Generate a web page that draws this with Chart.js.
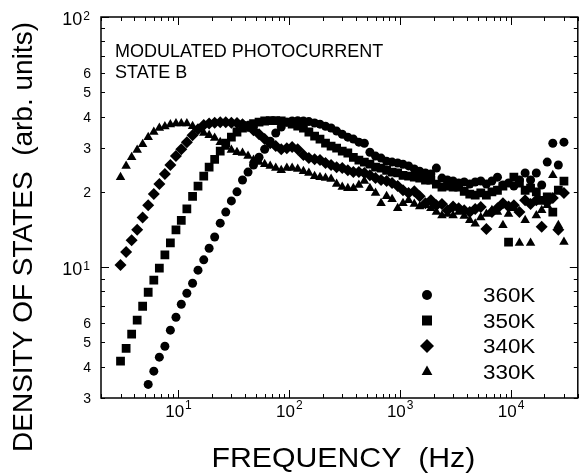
<!DOCTYPE html>
<html>
<head>
<meta charset="utf-8">
<title>Modulated photocurrent - state B</title>
<script src="https://cdn.jsdelivr.net/npm/chart.js@4"></script>
<style>
html, body { margin: 0; padding: 0; background: #fff; }
#c { display: block; }
</style>
</head>
<body>
<canvas id="c" width="584" height="474"></canvas>
<script>
(function() {
'use strict';

const FONT = '"Liberation Sans", Arial, Helvetica, sans-serif';

// frequency sweep (Hz)
const freqs = [
  3, 3.37, 3.78, 4.24, 4.75, 5.33, 5.99, 6.72, 7.54, 8.45,
  9.49, 10.6, 11.9, 13.4, 15.0, 16.9, 18.9, 21.2, 23.8, 26.7,
  30, 33.7, 37.8, 42.4, 47.5, 53.3, 59.9, 67.2, 75.4, 84.5,
  94.9, 106, 119, 134, 150, 169, 189, 212, 238, 267,
  300, 337, 378, 424, 475, 533, 599, 672, 754, 845,
  949, 1060, 1190, 1340, 1500, 1690, 1890, 2120, 2380, 2670,
  3000, 3370, 3780, 4240, 4750, 5330, 5990, 6720, 7540, 8450,
  9490, 10600, 11900, 13400, 15000, 16900, 18900, 21200, 23800, 26700,
  30000
];

// density of states (arb. units), one value per frequency
const dos360 = [
  null, null, null, null, null, 3.40, 3.84, 4.37, 4.83, 5.60,
  6.31, 7.11, 7.87, 8.63, 9.73, 10.7, 11.9, 13.2, 15.0, 16.6,
  18.4, 20.0, 22.3, 24.0, 25.6, 27.5, 29.6, 31.9, 34.4, 36.3,
  38.0, 38.4, 38.5, 38.4, 38.2, 37.7, 37.3, 36.6, 36.0, 35.0,
  34.0, 33.1, 32.5, 31.6, 31.3, 28.8, 27.8, 27.3, 26.5, 26.3,
  26.1, 25.8, 25.4, 24.7, 24.2, 23.8, 23.6, 24.9, 22.7, 22.3,
  22.1, 21.7, 21.9, 21.5, 21.9, 22.1, 21.5, 22.1, 22.9, 21.3,
  21.7, 21.1, 22.3, 23.8, 22.3, 23.8, 21.3, 26.3, 31.3, 25.6,
  31.6
];
const dos350 = [
  4.21, 4.74, 5.40, 6.14, 6.98, 7.94, 8.87, 9.91, 11.2, 12.5,
  14.1, 15.4, 17.1, 19.2, 21.1, 23.1, 25.1, 27.0, 29.1, 31.3,
  33.1, 34.7, 36.0, 36.8, 37.5, 38.0, 38.4, 38.5, 38.5, 38.4,
  38.0, 37.3, 36.6, 36.0, 34.7, 33.4, 32.5, 31.3, 30.5, 29.9,
  29.1, 28.6, 27.5, 26.8, 26.3, 25.8, 25.1, 24.9, 24.4, 24.0,
  23.8, 23.3, 23.1, 22.9, 22.7, 22.3, 22.3, 21.5, 20.9, 21.1,
  20.9, 20.9, 20.1, 19.6, 19.4, 19.8, 19.4, 20.0, 20.3, 21.1,
  12.6, 22.9, 21.7, 20.3, 20.7, 20.0, 18.5, 19.1, 16.6, 20.3,
  22.1
];
const dos340 = [
  10.2, 11.5, 12.8, 14.1, 15.8, 17.7, 19.6, 21.5, 23.6, 25.6,
  27.8, 29.6, 31.6, 33.7, 35.6, 37.0, 37.5, 37.8, 38.0, 38.0,
  37.8, 37.7, 37.3, 36.6, 35.3, 34.0, 32.5, 31.3, 30.5, 29.6,
  29.9, 30.2, 29.6, 28.1, 27.3, 27.0, 26.8, 26.1, 25.6, 25.1,
  24.9, 24.4, 24.0, 24.0, 23.8, 23.3, 22.7, 22.3, 22.1, 21.7,
  21.1, 20.3, 19.8, 20.1, 19.2, 18.0, 18.5, 17.7, 17.9, 16.9,
  17.5, 17.2, 16.9, 16.6, 17.1, 17.4, 14.2, 16.6, 17.2, 18.0,
  17.5, 17.7, 16.6, 18.5, 17.9, 18.5, 14.5, 18.2, 18.9, 14.1,
  19.8
];
const dos330 = [
  22.9, 25.4, 27.5, 29.4, 31.0, 33.1, 34.7, 36.0, 36.5, 37.2,
  37.5, 37.5, 37.5, 36.6, 35.6, 34.4, 33.7, 32.8, 31.6, 30.2,
  29.4, 28.8, 28.6, 27.8, 26.8, 26.3, 25.8, 25.4, 24.9, 24.4,
  24.9, 24.9, 24.7, 24.2, 23.8, 23.1, 22.9, 22.7, 22.5, 21.5,
  20.9, 20.7, 20.7, 21.3, 22.1, 20.7, 19.8, 18.0, 19.2, 18.7,
  17.2, 18.0, 18.5, 17.9, 17.5, 17.7, 17.2, 16.6, 16.1, 16.3,
  16.1, 16.6, 16.0, 15.4, 14.9, 15.8, 16.3, 16.9, 16.6, 14.7,
  16.3, 17.2, 12.5, 15.4, 12.5, 16.1, 16.9, 17.7, 23.3, 14.7,
  12.6
];

const seriesLabels = ['360K', '350K', '340K', '330K'];

// tick labels
const xTickVals = [10, 100, 1000, 10000];
const xTickBase = ['10', '10', '10', '10'];
const xTickExp = ['1', '2', '3', '4'];
const yTickVals = [100, 60, 50, 40, 30, 20, 10, 6, 5, 4, 3];
const yTickBase = ['10', '6', '5', '4', '3', '2', '10', '6', '5', '4', '3'];
const yTickExp = ['2', '', '', '', '', '', '1', '', '', '', ''];

const noteLines = ['MODULATED PHOTOCURRENT', 'STATE B'];
const xTitle = 'FREQUENCY  (Hz)';
const yTitle = 'DENSITY OF STATES  (arb. units)';

function pts(arr) {
  const out = [];
  freqs.forEach((f, i) => {
    if (arr[i] != null) out.push({x: f, y: arr[i]});
  });
  return out;
}

function minorTicks(lo, hi) {
  const t = [];
  for (let d = 1; d <= 1e5; d *= 10) {
    for (let k = 1; k <= 9; k++) {
      const v = k * d;
      if (v >= lo && v <= hi) t.push({v: v, major: k === 1});
    }
  }
  return t;
}

function text(ctx, s, x, y, size, align, sx) {
  ctx.save();
  ctx.font = size + 'px ' + FONT;
  ctx.textAlign = align || 'left';
  ctx.textBaseline = 'alphabetic';
  ctx.translate(x, y);
  ctx.scale(sx || 1, 1);
  ctx.fillText(s, 0, 0);
  ctx.restore();
}

// "10" + raised exponent
function powLabel(ctx, base, exp, x, y, align, bSize, eSize, rise) {
  ctx.save();
  ctx.font = bSize + 'px ' + FONT;
  const wb = ctx.measureText(base).width;
  ctx.font = eSize + 'px ' + FONT;
  const we = exp ? ctx.measureText(exp).width + 1 : 0;
  const w = wb + we;
  let x0 = x;
  if (align === 'center') x0 = x - w / 2;
  else if (align === 'right') x0 = x - w;
  ctx.textAlign = 'left';
  ctx.textBaseline = 'alphabetic';
  ctx.font = bSize + 'px ' + FONT;
  ctx.fillText(base, x0, y);
  if (exp) {
    ctx.font = eSize + 'px ' + FONT;
    ctx.fillText(exp, x0 + wb + 1, y - rise);
  }
  ctx.restore();
}

function marker(ctx, style, x, y, r) {
  ctx.beginPath();
  if (style === 'circle') {
    ctx.arc(x, y, r, 0, Math.PI * 2);
  } else if (style === 'rect') {
    ctx.rect(x - r, y - r, 2 * r, 2 * r);
  } else if (style === 'rectRot') {
    ctx.moveTo(x - r, y);
    ctx.lineTo(x, y - r);
    ctx.lineTo(x + r, y);
    ctx.lineTo(x, y + r);
    ctx.closePath();
  } else {
    ctx.moveTo(x, y - r);
    ctx.lineTo(x + r * 0.9, y + r * 0.6);
    ctx.lineTo(x - r * 0.9, y + r * 0.6);
    ctx.closePath();
  }
  ctx.fill();
}

const axesPlugin = {
  id: 'axesPlugin',
  afterDatasetsDraw(chart) {
    const ctx = chart.ctx;
    const a = chart.chartArea;
    const sx = chart.scales.x, sy = chart.scales.y;
    ctx.save();
    ctx.strokeStyle = '#000';
    ctx.fillStyle = '#000';
    ctx.lineWidth = 1.5;
    ctx.strokeRect(a.left, a.top, a.right - a.left, a.bottom - a.top);

    ctx.lineWidth = 1;
    ctx.beginPath();
    minorTicks(sx.min, sx.max).forEach(t => {
      const px = Math.round(sx.getPixelForValue(t.v)) + 0.5;
      const len = t.major ? 8 : 4;
      ctx.moveTo(px, a.bottom);
      ctx.lineTo(px, a.bottom - len);
      ctx.moveTo(px, a.top);
      ctx.lineTo(px, a.top + len);
    });
    minorTicks(sy.min, sy.max).forEach(t => {
      const py = Math.round(sy.getPixelForValue(t.v)) + 0.5;
      const len = t.major ? 8 : 4;
      ctx.moveTo(a.left, py);
      ctx.lineTo(a.left + len, py);
      ctx.moveTo(a.right, py);
      ctx.lineTo(a.right - len, py);
    });
    ctx.stroke();

    // tick labels
    xTickVals.forEach((v, i) => {
      const px = sx.getPixelForValue(v);
      powLabel(ctx, xTickBase[i], xTickExp[i], px, a.bottom + 19, 'center', 17, 12, 8);
    });
    yTickVals.forEach((v, i) => {
      const py = sy.getPixelForValue(v);
      if (yTickExp[i]) {
        powLabel(ctx, yTickBase[i], yTickExp[i], a.left - 11, py + 8, 'right', 18, 12, 5);
      } else {
        text(ctx, yTickBase[i], a.left - 10, py + 5, 14, 'right');
      }
    });

    // axis titles
    text(ctx, xTitle, (a.left + a.right) / 2 + 4, 467, 28, 'center', 1.08);
    ctx.save();
    ctx.translate(32, 237);
    ctx.rotate(-Math.PI / 2);
    text(ctx, yTitle, 0, 0, 28, 'center', 1.0);
    ctx.restore();

    // annotation
    text(ctx, noteLines[0], a.left + 14, 57, 18, 'left');
    text(ctx, noteLines[1], a.left + 14, 78, 18, 'left');

    // legend
    chart.data.datasets.forEach((ds, i) => {
      const ly = 295 + 25.5 * i;
      const st = ds.pointStyle;
      const r = st === 'circle' ? 5 : st === 'rect' ? 5 : st === 'rectRot' ? 7 : 6;
      marker(ctx, st, 427, ly, r);
      text(ctx, ds.label, 483, ly + 7, 20, 'left', 1.12);
    });
    ctx.restore();
  }
};

function ds(label, arr, style, radius) {
  return {
    label: label,
    data: pts(arr),
    pointStyle: style,
    pointRadius: radius,
    pointHoverRadius: radius,
    backgroundColor: '#000',
    borderColor: '#000',
    borderWidth: 0,
    showLine: false
  };
}

new Chart(document.getElementById('c'), {
  type: 'scatter',
  data: {
    datasets: [
      ds(seriesLabels[0], dos360, 'circle', 4.5),
      ds(seriesLabels[1], dos350, 'rect', 6.2),
      ds(seriesLabels[2], dos340, 'rectRot', 6),
      ds(seriesLabels[3], dos330, 'triangle', 5.5)
    ]
  },
  options: {
    responsive: false,
    animation: false,
    layout: {padding: {left: 0, right: 6, top: 17, bottom: 0}},
    plugins: {legend: {display: false}, tooltip: {enabled: false}},
    scales: {
      x: {
        type: 'logarithmic',
        min: 2,
        max: 40000,
        grid: {display: false, drawTicks: false},
        border: {display: false},
        ticks: {display: false},
        afterBuildTicks: s => { s.ticks = xTickVals.map(v => ({value: v})); },
        afterFit: s => { s.height = 76; }
      },
      y: {
        type: 'logarithmic',
        min: 3,
        max: 100,
        grid: {display: false, drawTicks: false},
        border: {display: false},
        ticks: {display: false},
        afterBuildTicks: s => { s.ticks = yTickVals.map(v => ({value: v})); },
        afterFit: s => { s.width = 101; }
      }
    }
  },
  plugins: [axesPlugin]
});
})();
</script>
</body>
</html>
